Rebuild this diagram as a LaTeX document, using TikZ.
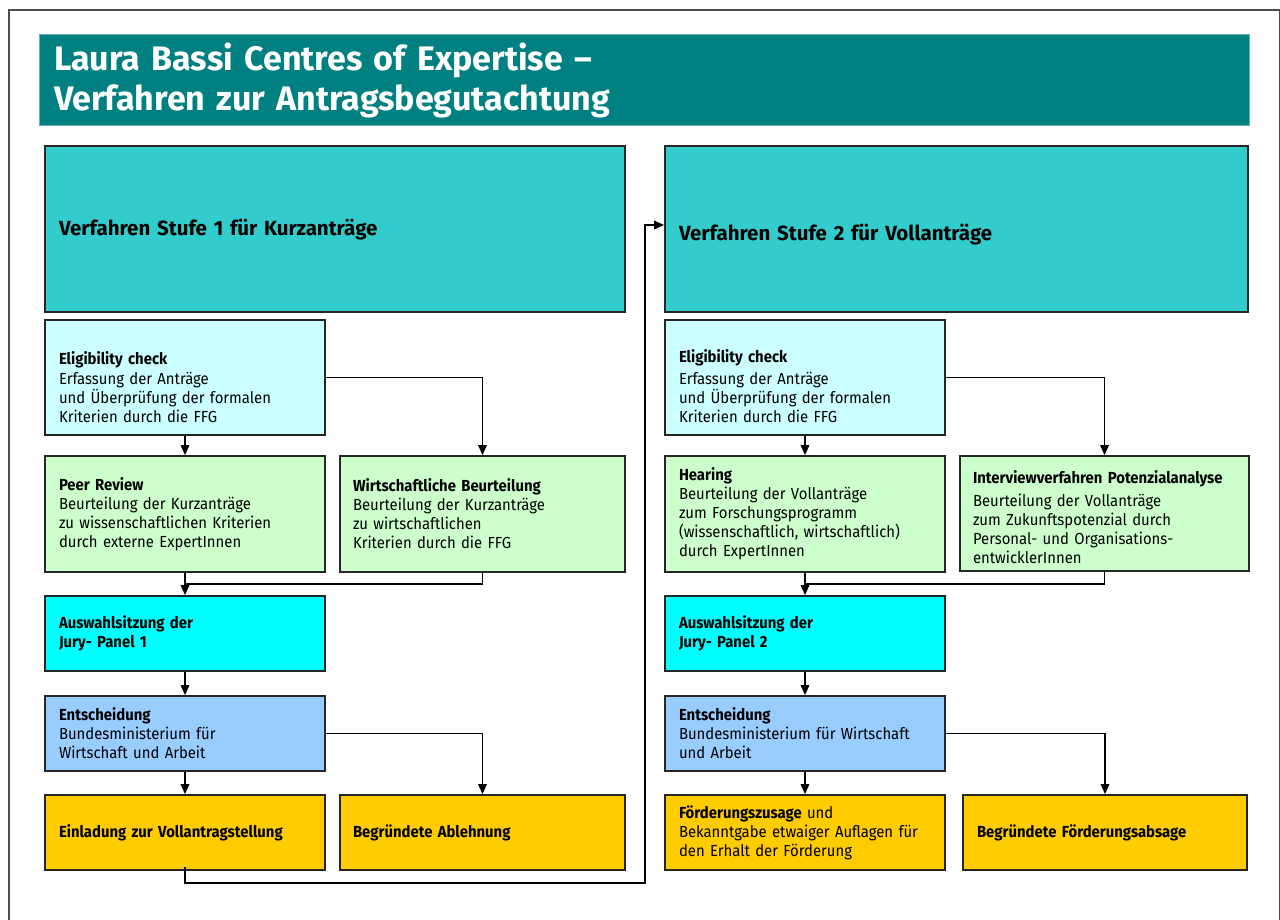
\documentclass[tikz,border=0pt]{standalone}
\usepackage{fontspec}
\setmainfont{Fira Sans}[FakeStretch=0.93]
\newfontfamily\titlefont{Fira Sans}
\newfontfamily\headfont{Fira Sans}
\usetikzlibrary{arrows.meta,calc}
\definecolor{titlebg}{HTML}{008080}
\definecolor{titleedge}{HTML}{66B3B3}
\definecolor{stufe}{HTML}{33CCCC}
\definecolor{elig}{HTML}{CCFFFF}
\definecolor{review}{HTML}{CCFFCC}
\definecolor{jury}{HTML}{00FFFF}
\definecolor{decide}{HTML}{99CCFF}
\definecolor{result}{HTML}{FFCC00}
\definecolor{edge}{HTML}{262626}
\tikzset{
  box/.style={draw=edge, line width=1.7pt, rectangle, inner xsep=14pt, inner ysep=0pt,
    align=left, font=\fontsize{16}{19}\selectfont},
  stufebox/.style={box, fill=stufe, minimum height=166pt, font=\headfont\fontsize{20.5}{22}\selectfont\bfseries},
  conn/.style={draw=black, line width=1.6pt, -{Triangle[length=10pt,width=8.5pt]}},
  plain/.style={draw=black, line width=1.6pt},
}
\begin{document}
\begin{tikzpicture}[x=1pt,y=-1pt]
\useasboundingbox (0,0) rectangle (1280,920);
\fill[white] (0,0) rectangle (1280,920);
\draw[draw=black!70, line width=1.2pt] (9,10) rectangle (1279.5,940);
% title
\node[draw=titleedge, line width=1pt, fill=titlebg, minimum width=1210pt, minimum height=91pt,
  inner xsep=15pt, text width=1180pt, align=left, text=white,
  font=\titlefont\fontsize{34}{40}\selectfont\bfseries] (title) at (644,80.5)
  {Laura Bassi Centres of Expertise –\\Verfahren zur Antragsbegutachtung};
% left column
\node[stufebox, text width=552pt] (st1) at (335,229) {\raisebox{-7pt}[0pt][0pt]{Verfahren Stufe 1 für Kurzanträge}};
\node[box, fill=elig, minimum height=115pt, text width=252pt] (el1) at (185,377.5)
  {\mbox{}\\[13pt]\textbf{Eligibility check}\\[1pt]Erfassung der Anträge\\und Überprüfung der formalen\\Kriterien durch die FFG};
\node[box, fill=review, minimum height=116pt, text width=252pt] (pr) at (185,514)
  {\textbf{Peer Review}\\Beurteilung der Kurzanträge\\zu wissenschaftlichen Kriterien\\durch externe ExpertInnen};
\node[box, fill=review, minimum height=116pt, inner xsep=13pt, text width=259pt] (wb) at (482.5,514)
  {\textbf{Wirtschaftliche Beurteilung}\\Beurteilung der Kurzanträge\\zu wirtschaftlichen\\Kriterien durch die FFG};
\node[box, fill=jury, minimum height=75pt, text width=252pt] (aw1) at (185,633.5)
  {\textbf{Auswahlsitzung der}\\\textbf{Jury- Panel 1}};
\node[box, fill=decide, minimum height=75pt, text width=252pt] (en1) at (185,733.5)
  {\textbf{Entscheidung}\\Bundesministerium für\\Wirtschaft und Arbeit};
\node[box, fill=result, minimum height=75pt, text width=252pt] (ei) at (185,832.5)
  {\textbf{Einladung zur Vollantragstellung}};
\node[box, fill=result, minimum height=75pt, inner xsep=13pt, text width=259pt] (ab) at (482.5,832.5)
  {\textbf{Begründete Ablehnung}};
% right column
\node[stufebox, text width=555pt] (st2) at (956.5,229) {\raisebox{-11.5pt}[0pt][0pt]{Verfahren Stufe 2 für Vollanträge}};
\node[box, fill=elig, minimum height=115pt, text width=252pt] (el2) at (805,377.5)
  {\mbox{}\\[11pt]\textbf{Eligibility check}\\[3pt]Erfassung der Anträge\\und Überprüfung der formalen\\Kriterien durch die FFG};
\node[box, fill=review, minimum height=116pt, text width=252pt] (he) at (805,514)
  {\textbf{Hearing}\\Beurteilung der Vollanträge\\zum Forschungsprogramm\\(wissenschaftlich, wirtschaftlich)\\durch ExpertInnen};
\node[box, fill=review, minimum height=115pt, inner xsep=13pt, text width=263pt] (iv) at (1104.5,513.5)
  {\mbox{}\\[2pt]\textbf{Interviewverfahren Potenzialanalyse}\\[4pt]Beurteilung der Vollanträge\\zum Zukunftspotenzial durch\\Personal- und Organisations-\\entwicklerInnen};
\node[box, fill=jury, minimum height=75pt, text width=252pt] (aw2) at (805,633.5)
  {\textbf{Auswahlsitzung der}\\\textbf{Jury- Panel 2}};
\node[box, fill=decide, minimum height=75pt, text width=252pt] (en2) at (805,733.5)
  {\textbf{Entscheidung}\\Bundesministerium für Wirtschaft\\und Arbeit};
\node[box, fill=result, minimum height=75pt, text width=252pt] (zu) at (805,832.5)
  {\textbf{Förderungszusage} und\\Bekanntgabe etwaiger Auflagen für\\den Erhalt der Förderung};
\node[box, fill=result, minimum height=75pt, text width=256pt] (fa) at (1105,832.5)
  {\textbf{Begründete Förderungsabsage}};
% connectors left
\draw[conn] (el1.south) -- (pr.north);
\draw[conn] (el1.east) -| (wb.north);
\draw[conn] (pr.south) -- (aw1.north);
\draw[plain] (wb.south) |- ($(pr.south)!0.5!(aw1.north)$);
\draw[conn] (aw1.south) -- (en1.north);
\draw[conn] (en1.south) -- (ei.north);
\draw[conn] (en1.east) -| (ab.north);
\coordinate (lp1) at ($(ei.south)+(0,12)$);
\coordinate (lp2) at (645,0);
\coordinate (lp3) at ($(st2.west)+(0,-4)$);
\draw[conn] ($(ei.south)+(0,-4)$) -- (lp1) -| (lp2 |- lp3) -- (lp3);
% connectors right
\draw[conn] (el2.south) -- (he.north);
\draw[conn] (el2.east) -| (iv.north);
\draw[conn] (he.south) -- (aw2.north);
\draw[plain] (iv.south) |- ($(he.south)!0.5!(aw2.north)$);
\draw[conn] (aw2.south) -- (en2.north);
\draw[conn] (en2.south) -- (zu.north);
\draw[conn] (en2.east) -| (fa.north);
\end{tikzpicture}
\end{document}
